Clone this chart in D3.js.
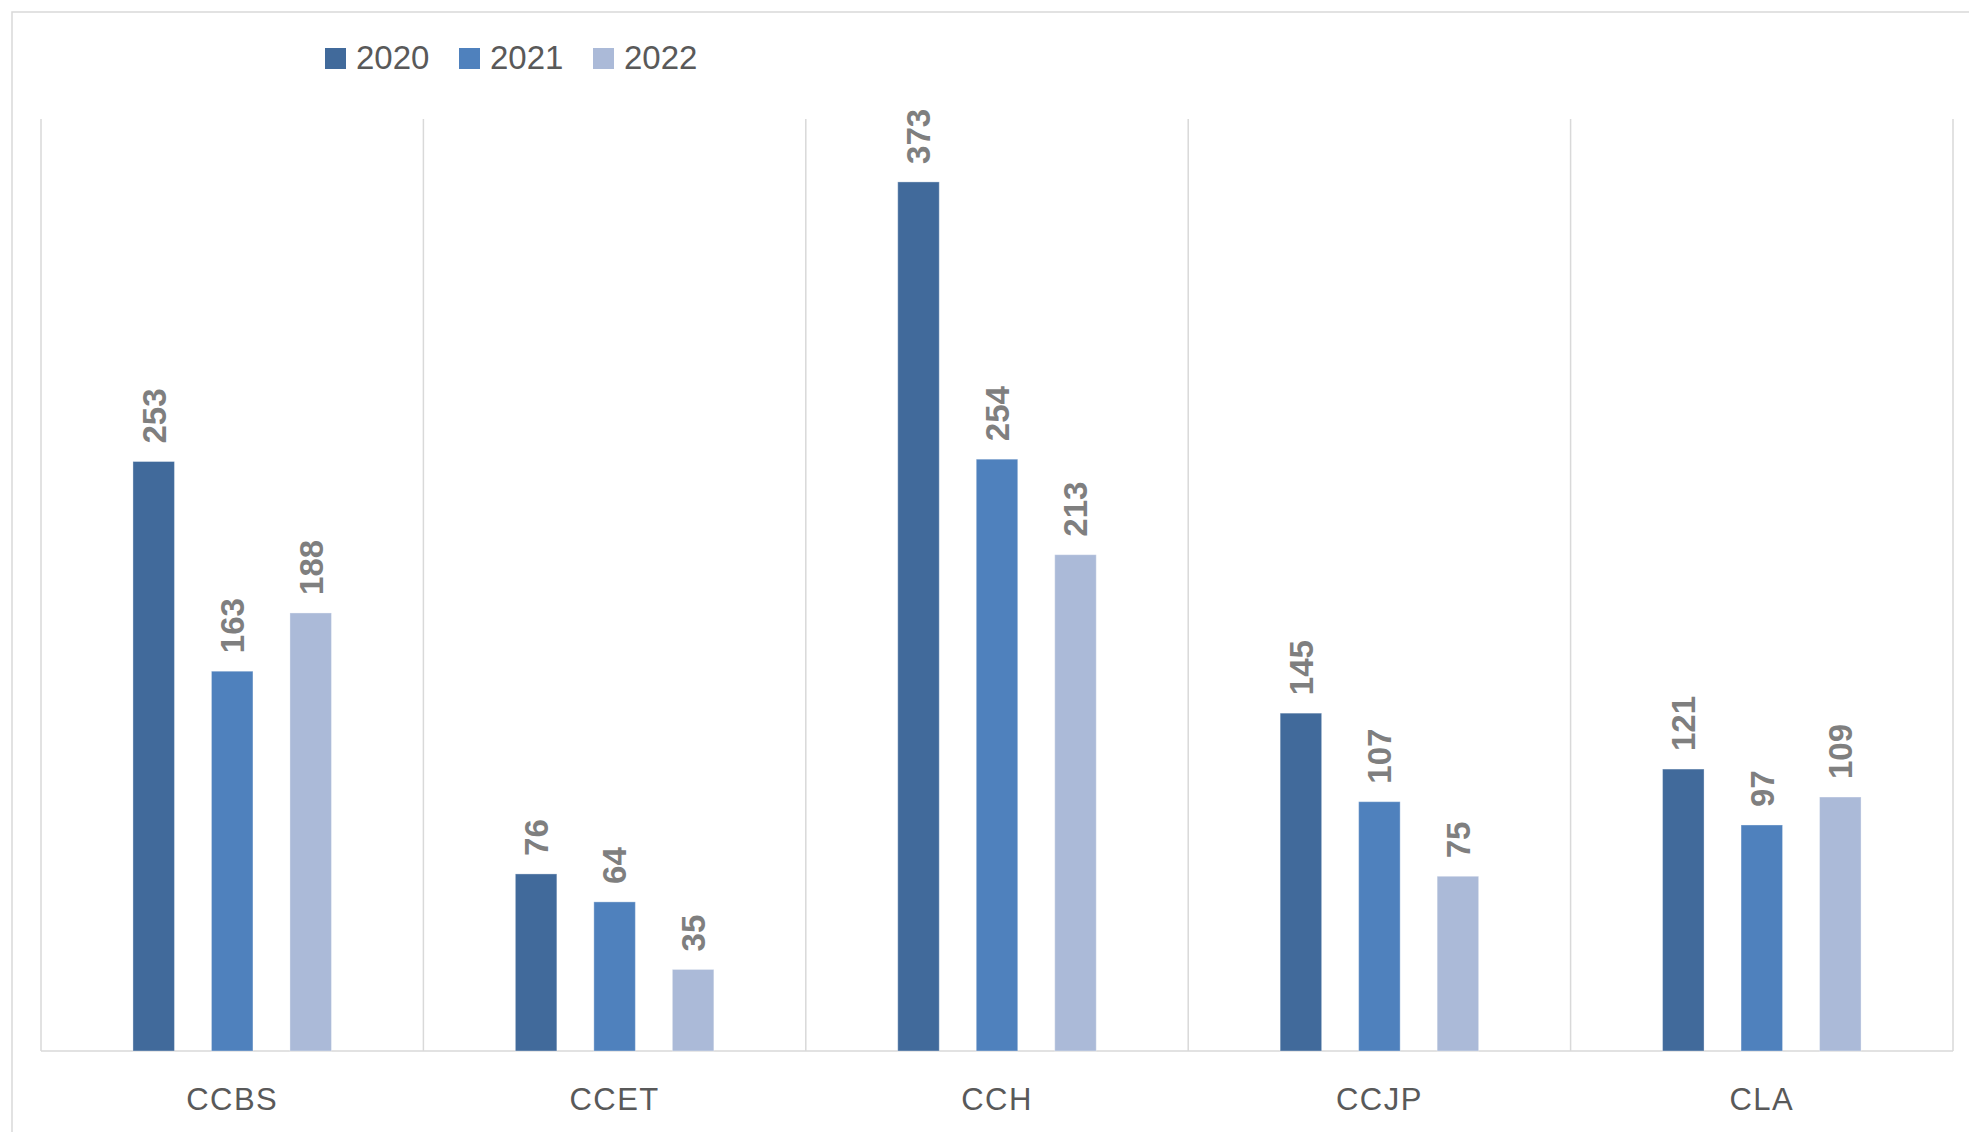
<!DOCTYPE html>
<html>
<head>
<meta charset="utf-8">
<script src="https://cdn.jsdelivr.net/npm/d3@7"></script>
<style>
  html, body { margin: 0; padding: 0; background: #fff; }
  svg { display: block; }
  text { font-family: "Liberation Sans", Arial, sans-serif; }
</style>
</head>
<body>
<svg id="chart" width="1969" height="1132"></svg>
<script>
const categories = ["CCBS", "CCET", "CCH", "CCJP", "CLA"];
const seriesNames = ["2020", "2021", "2022"];
const values2020 = [253, 76, 373, 145, 121];
const values2021 = [163, 64, 254, 107, 97];
const values2022 = [188, 35, 213, 75, 109];
const seriesColors = ["#416a9b", "#4f81bd", "#abbad8"];
const yDomain = [0, 400];

const seriesValues = [values2020, values2021, values2022];
const rows = categories.map((c, i) => ({
  cat: c,
  vals: seriesNames.map((s, j) => ({ key: s, value: seriesValues[j][i], color: seriesColors[j] }))
}));

const plotL = 41, plotR = 1953, plotT = 119, plotB = 1051;
const svg = d3.select("#chart");
const grid = "#d9d9d9";

// outer chart border
svg.append("rect").attr("x", 12).attr("y", 12).attr("width", 3000).attr("height", 3000)
  .attr("fill", "none").attr("stroke", grid).attr("stroke-width", 1.5);

const x0 = d3.scaleBand().domain(categories).range([plotL, plotR]).padding(0);
const groupW = 198.5;
const x1 = d3.scaleBand().domain(seriesNames).range([-groupW / 2, groupW / 2]).paddingInner(0.4713).paddingOuter(0);
const y = d3.scaleLinear().domain(yDomain).range([plotB, plotT]);

// vertical gridlines at category boundaries
const bounds = categories.map(c => x0(c)).concat([x0(categories[categories.length - 1]) + x0.bandwidth()]);
svg.append("g").selectAll("line").data(bounds).join("line")
  .attr("x1", d => d).attr("x2", d => d)
  .attr("y1", plotT).attr("y2", plotB)
  .attr("stroke", grid).attr("stroke-width", 1.5);

// x axis
const xAxis = svg.append("g").attr("transform", `translate(0,${plotB})`)
  .call(d3.axisBottom(x0).tickSize(0).tickPadding(0));
xAxis.select(".domain").attr("stroke", grid).attr("stroke-width", 1.5).attr("d", `M${plotL},0H${plotR}`);
xAxis.selectAll(".tick text")
  .attr("y", 59).attr("dy", 0)
  .attr("font-size", 31).attr("fill", "#595959")
  .attr("letter-spacing", 1.5)
  .style("font-family", '"Liberation Sans", Arial, sans-serif');

// bars
const groups = svg.append("g").selectAll("g").data(rows).join("g")
  .attr("transform", d => `translate(${x0(d.cat) + x0.bandwidth() / 2},0)`);

groups.selectAll("rect").data(d => d.vals).join("rect")
  .attr("x", d => x1(d.key))
  .attr("width", x1.bandwidth())
  .attr("y", d => y(d.value))
  .attr("height", d => y(0) - y(d.value))
  .attr("fill", d => d.color)
  .attr("stroke", "#ffffff").attr("stroke-opacity", 0.35).attr("stroke-width", 1);

// value labels (rotated)
groups.selectAll("text.val").data(d => d.vals).join("text")
  .attr("class", "val")
  .attr("transform", d => `translate(${x1(d.key) + x1.bandwidth() / 2},${y(d.value) - 18}) rotate(-90)`)
  .attr("dy", "0.36em")
  .attr("text-anchor", "start")
  .attr("font-size", 33).attr("font-weight", "bold").attr("fill", "#7f7f7f")
  .text(d => d.value);

// legend
const legend = svg.append("g");
const legX = [325, 459, 593];
seriesNames.forEach((s, i) => {
  const g = legend.append("g").attr("transform", `translate(${legX[i]},48)`);
  g.append("rect").attr("width", 21).attr("height", 21).attr("fill", seriesColors[i]);
  g.append("text").attr("x", 31).attr("y", 21).attr("font-size", 33).attr("fill", "#595959").text(s);
});
</script>
</body>
</html>
